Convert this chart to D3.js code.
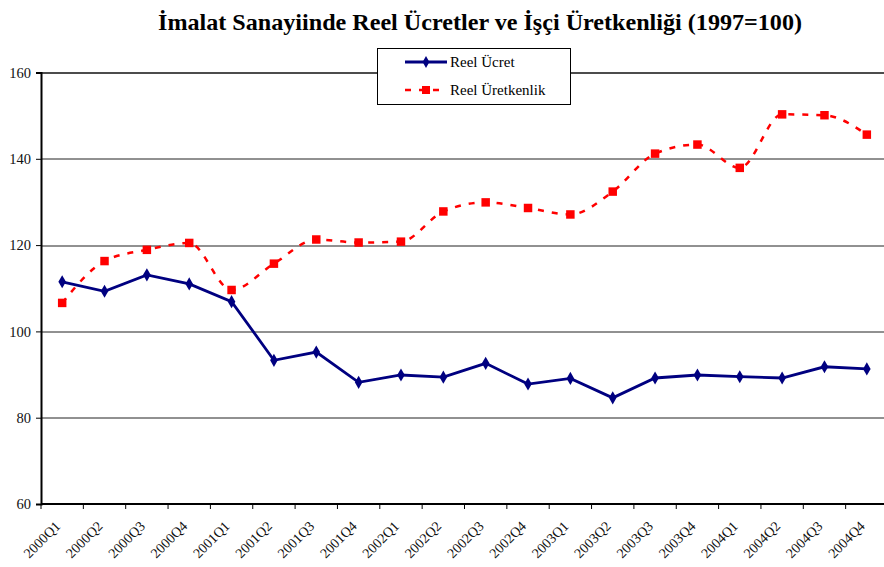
<!DOCTYPE html>
<html>
<head>
<meta charset="utf-8">
<script src="https://cdn.jsdelivr.net/npm/d3@7"></script>
<style>
  body { margin: 0; background: #fff; }
  svg { display: block; }
  svg text { font-family: "Liberation Serif", "Times New Roman", serif; }
</style>
</head>
<body>
<div id="chart"></div>
<script>
// Quarter labels on the x-axis
const quarters = ['2000Q1', '2000Q2', '2000Q3', '2000Q4', '2001Q1', '2001Q2', '2001Q3', '2001Q4',
    '2002Q1', '2002Q2', '2002Q3', '2002Q4', '2003Q1', '2003Q2', '2003Q3', '2003Q4',
    '2004Q1', '2004Q2', '2004Q3', '2004Q4'];

// Reel Ücret series
const reelUcret = [111.5, 109.3, 113.1, 111.0, 106.9, 93.3, 95.2, 88.2, 89.9, 89.4,
    92.6, 87.8, 89.1, 84.6, 89.2, 89.9, 89.5, 89.2, 91.8, 91.3];

// Reel Üretkenlik series
const reelUretkenlik = [106.6, 116.3, 118.9, 120.5, 109.6, 115.7, 121.3, 120.6, 120.8, 127.8,
    129.9, 128.6, 127.1, 132.4, 141.2, 143.3, 137.9, 150.3, 150.1, 145.6];

// Y-axis ticks
const yTicks = [60, 80, 100, 120, 140, 160];

const width = 884;
const height = 567;
const margin = { top: 72.5, right: -4, bottom: 63, left: 41 };
const graphWidth = width - margin.left - margin.right;
const graphHeight = height - margin.top - margin.bottom;
const serif = '"Liberation Serif", "Times New Roman", serif';

const svg = d3.select('#chart')
    .append('svg')
    .attr('width', width)
    .attr('height', height);

// Title
svg.append('text')
    .attr('x', 158)
    .attr('y', 30)
    .attr('textLength', 644)
    .attr('lengthAdjust', 'spacingAndGlyphs')
    .attr('font-family', serif)
    .style('font-size', '24px')
    .style('font-weight', 'bold')
    .text('İmalat Sanayiinde Reel Ücretler ve İşçi Üretkenliği (1997=100)');

const graph = svg.append('g')
    .attr('transform', `translate(${margin.left}, ${margin.top})`);

const x = d3.scaleBand().domain(quarters).range([0, graphWidth]);
const y = d3.scaleLinear().domain([60, 160]).range([graphHeight, 0]);
const cx = (i) => x(quarters[i]) + x.bandwidth() / 2;

// Gridlines
graph.append('g')
    .selectAll('line')
    .data(yTicks.filter((t) => t > 60))
    .enter()
    .append('line')
    .attr('x1', 0)
    .attr('x2', graphWidth)
    .attr('y1', (d) => Math.round(y(d)) + 0.5)
    .attr('y2', (d) => Math.round(y(d)) + 0.5)
    .attr('stroke', (d) => (d === 160 ? '#111' : '#222'))
    .attr('stroke-width', (d) => (d === 160 ? 1.6 : 1));

// Y-axis
const yAxisGroup = graph.append('g')
    .call(d3.axisLeft(y).tickValues(yTicks).tickSize(5).tickPadding(5));
yAxisGroup.attr('font-family', serif);
yAxisGroup.select('.domain').attr('stroke', '#000').attr('stroke-width', 2);
yAxisGroup.selectAll('.tick line').attr('stroke', '#000');
yAxisGroup.selectAll('text')
    .attr('font-family', serif)
    .style('font-size', '14.5px')
    .attr('fill', '#111');

// X-axis: ticks on category boundaries
const xAxisGroup = graph.append('g')
    .attr('transform', `translate(0, ${graphHeight})`);
xAxisGroup.append('line')
    .attr('x1', 0).attr('x2', graphWidth)
    .attr('stroke', '#000').attr('stroke-width', 2);
xAxisGroup.selectAll('.tk')
    .data(quarters)
    .enter()
    .append('line')
    .attr('class', 'tk')
    .attr('x1', (d) => x(d))
    .attr('x2', (d) => x(d))
    .attr('y1', 0)
    .attr('y2', 5)
    .attr('stroke', '#000');
xAxisGroup.selectAll('.lbl')
    .data(quarters)
    .enter()
    .append('text')
    .attr('class', 'lbl')
    .attr('text-anchor', 'end')
    .attr('font-family', serif)
    .attr('transform', (d) => `translate(${x(d) + x.bandwidth() / 2 - 1}, 23) rotate(-45)`)
    .style('font-size', '14px')
    .attr('fill', '#111')
    .text((d) => d);

// Reel Üretkenlik - smoothed dashed red line
const redLine = d3.line()
    .x((d, i) => cx(i))
    .y((d) => y(d))
    .curve(d3.curveMonotoneX);
graph.append('path')
    .datum(reelUretkenlik)
    .attr('d', redLine)
    .attr('fill', 'none')
    .attr('stroke', '#ff0000')
    .attr('stroke-width', 2.5)
    .attr('stroke-dasharray', '6,8');
graph.selectAll('.sq')
    .data(reelUretkenlik)
    .enter()
    .append('path')
    .attr('class', 'sq')
    .attr('d', d3.symbol().type(d3.symbolSquare).size(72))
    .attr('transform', (d, i) => `translate(${cx(i)}, ${y(d)})`)
    .attr('fill', '#ff0000');

// Reel Ücret - solid navy line
const blueLine = d3.line()
    .x((d, i) => cx(i))
    .y((d) => y(d));
graph.append('path')
    .datum(reelUcret)
    .attr('d', blueLine)
    .attr('fill', 'none')
    .attr('stroke', '#000080')
    .attr('stroke-width', 2.8);
graph.selectAll('.dm')
    .data(reelUcret)
    .enter()
    .append('path')
    .attr('class', 'dm')
    .attr('d', d3.symbol().type(d3.symbolDiamond).size(50))
    .attr('transform', (d, i) => `translate(${cx(i)}, ${y(d)})`)
    .attr('fill', '#000080');

// Legend
const legend = svg.append('g').attr('font-family', serif);
legend.append('rect')
    .attr('x', 377.5).attr('y', 48.5)
    .attr('width', 193).attr('height', 56)
    .attr('fill', '#fff')
    .attr('stroke', '#000');
legend.append('line')
    .attr('x1', 405).attr('x2', 447).attr('y1', 62).attr('y2', 62)
    .attr('stroke', '#000080').attr('stroke-width', 2.8);
legend.append('path')
    .attr('d', d3.symbol().type(d3.symbolDiamond).size(40))
    .attr('transform', 'translate(426, 62)')
    .attr('fill', '#000080');
legend.append('text')
    .attr('x', 450).attr('y', 67)
    .attr('font-family', serif)
    .style('font-size', '15px')
    .text('Reel Ücret');
legend.append('line')
    .attr('x1', 405).attr('x2', 447).attr('y1', 90).attr('y2', 90)
    .attr('stroke', '#ff0000').attr('stroke-width', 2.5)
    .attr('stroke-dasharray', '6,8');
legend.append('path')
    .attr('d', d3.symbol().type(d3.symbolSquare).size(64))
    .attr('transform', 'translate(426, 90)')
    .attr('fill', '#ff0000');
legend.append('text')
    .attr('x', 450).attr('y', 95)
    .attr('font-family', serif)
    .style('font-size', '15px')
    .text('Reel Üretkenlik');
</script>
</body>
</html>
